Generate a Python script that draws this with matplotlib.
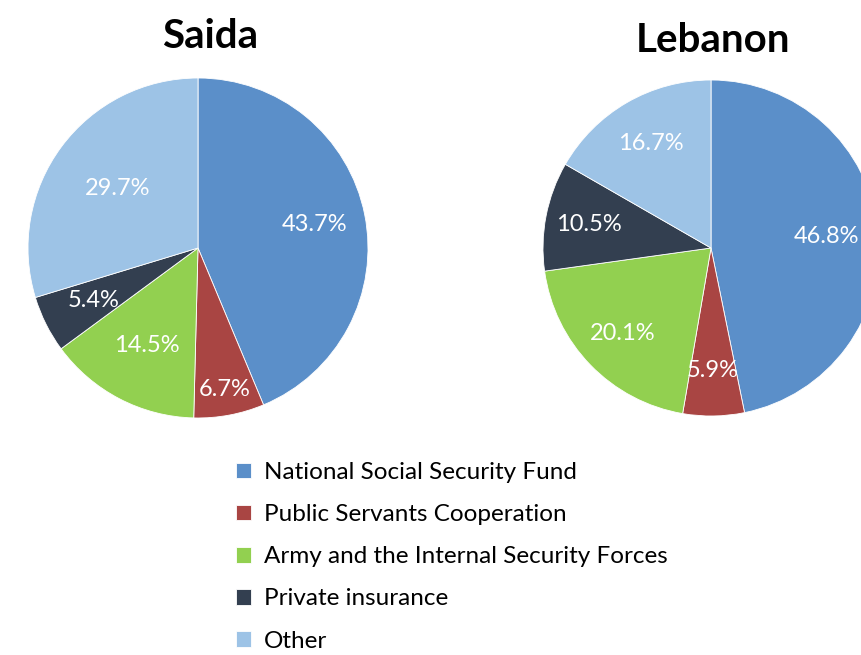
import matplotlib.pyplot as plt
import numpy as np

# data
categories = ["National Social Security Fund", "Public Servants Cooperation",
              "Army and the Internal Security Forces", "Private insurance", "Other"]
saida = [43.7, 6.7, 14.5, 5.4, 29.7]
lebanon = [46.8, 5.9, 20.1, 10.5, 16.7]
colors = ["#5B8FC9", "#A94543", "#92D050", "#333F50", "#9DC3E6"]

plt.rcParams['font.family'] = ['Lato', 'DejaVu Sans']

W, H = 861, 655
fig = plt.figure(figsize=(W / 100, H / 100), dpi=100)


def px_axes(cx, cy, r):
    # square axes around a pie centre given in pixels (top-left origin)
    return fig.add_axes([(cx - r) / W, (H - cy - r) / H, 2 * r / W, 2 * r / H])


def draw_pie(ax, values, label_r):
    wedges, _ = ax.pie(values, colors=colors, startangle=90, counterclock=False,
                       wedgeprops=dict(edgecolor="white", linewidth=0.6))
    for w, v, lr in zip(wedges, values, label_r):
        ang = np.deg2rad((w.theta1 + w.theta2) / 2)
        ax.text(lr * np.cos(ang), lr * np.sin(ang), f"{v:.1f}%",
                ha="center", va="center", color="white", fontsize=17)
    ax.set_xlim(-1, 1)
    ax.set_ylim(-1, 1)
    ax.set_aspect("equal")
    ax.axis("off")
    return wedges


ax1 = px_axes(198, 248, 170)
wedges = draw_pie(ax1, saida, [0.70, 0.845, 0.65, 0.69, 0.59])

ax2 = px_axes(711, 248, 168)
draw_pie(ax2, lebanon, [0.69, 0.73, 0.73, 0.74, 0.72])

fig.text(210 / W, 1 - 36 / H, "Saida", ha="center", va="center",
         fontsize=29, fontweight="bold")
fig.text(713 / W, 1 - 40 / H, "Lebanon", ha="center", va="center",
         fontsize=29, fontweight="bold")

fig.legend(wedges, categories, loc="upper left",
           bbox_to_anchor=(236 / W, 1 - 462 / H), frameon=False,
           fontsize=17.5, borderpad=0, borderaxespad=0,
           handlelength=0.62, handleheight=0.62, handletextpad=0.54,
           labelspacing=0.87)

plt.savefig("out.png", dpi=100)
